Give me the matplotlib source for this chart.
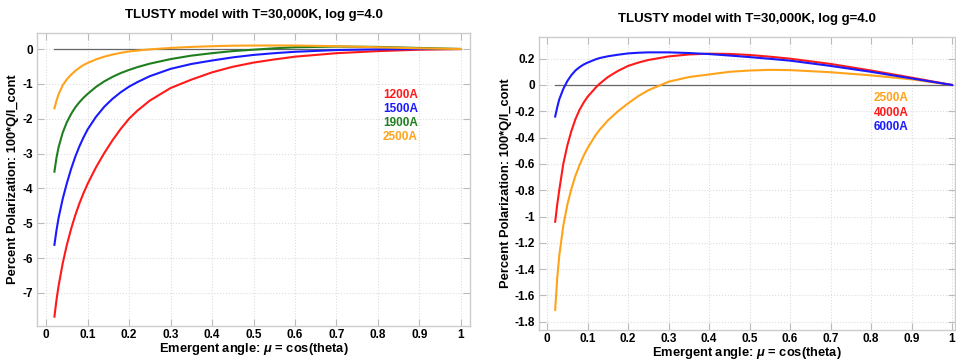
import matplotlib
matplotlib.use("Agg")
import matplotlib.pyplot as plt

plt.rcParams['font.family'] = ['Liberation Sans', 'DejaVu Sans']
plt.rcParams['font.weight'] = 'bold'
plt.rcParams['mathtext.fontset'] = 'custom'
plt.rcParams['mathtext.it'] = 'Liberation Sans:italic:bold'
plt.rcParams['mathtext.rm'] = 'Liberation Sans:bold'

# linkes Bild: UV Wellenlaengen
mu_l = [0.02, 0.025, 0.03, 0.04, 0.05, 0.06, 0.07, 0.08, 0.09, 0.10, 0.12, 0.14, 0.16,
        0.18, 0.20, 0.22, 0.25, 0.30, 0.35, 0.40, 0.45, 0.50, 0.55, 0.60, 0.70, 0.80, 0.90, 1.00]
p1200 = [-7.68, -7.20, -6.80, -6.15, -5.62, -5.17, -4.78, -4.44, -4.14, -3.87, -3.40, -2.99, -2.62,
         -2.29, -2.00, -1.77, -1.48, -1.12, -0.88, -0.67, -0.51, -0.39, -0.30, -0.22, -0.12, -0.06, -0.02, 0.0]
p1500 = [-5.62, -5.20, -4.85, -4.30, -3.85, -3.45, -3.10, -2.80, -2.54, -2.31, -1.95, -1.66, -1.43,
         -1.24, -1.08, -0.95, -0.78, -0.57, -0.43, -0.33, -0.24, -0.17, -0.12, -0.08, -0.03, -0.01, 0.0, 0.0]
p1900 = [-3.52, -3.12, -2.82, -2.40, -2.10, -1.87, -1.68, -1.53, -1.40, -1.29, -1.09, -0.93, -0.80,
         -0.69, -0.60, -0.52, -0.42, -0.29, -0.19, -0.12, -0.06, -0.02, 0.02, 0.05, 0.07, 0.06, 0.03, 0.0]
p2500 = [-1.70, -1.48, -1.30, -1.04, -0.87, -0.74, -0.63, -0.54, -0.46, -0.40, -0.30, -0.22, -0.16,
         -0.11, -0.07, -0.045, -0.01, 0.03, 0.06, 0.08, 0.095, 0.10, 0.10, 0.10, 0.08, 0.05, 0.02, 0.0]

# rechtes Bild: optische Wellenlaengen
mu_r = [0.02, 0.025, 0.03, 0.04, 0.05, 0.06, 0.07, 0.08, 0.09, 0.10, 0.12, 0.13, 0.15, 0.175, 0.20,
        0.225, 0.25, 0.30, 0.35, 0.40, 0.45, 0.50, 0.55, 0.60, 0.70, 0.80, 0.90, 1.00]
q2500 = [-1.71, -1.47, -1.30, -1.07, -0.91, -0.79, -0.69, -0.61, -0.54, -0.48, -0.38, -0.34, -0.27, -0.20,
         -0.14, -0.085, -0.04, 0.025, 0.06, 0.08, 0.10, 0.11, 0.115, 0.113, 0.097, 0.073, 0.043, 0.0]
q4000 = [-1.04, -0.91, -0.80, -0.60, -0.46, -0.35, -0.26, -0.19, -0.135, -0.09, -0.02, 0.01, 0.06, 0.107,
         0.145, 0.17, 0.19, 0.217, 0.232, 0.238, 0.236, 0.228, 0.215, 0.20, 0.16, 0.11, 0.056, 0.0]
q6000 = [-0.24, -0.17, -0.11, -0.03, 0.03, 0.075, 0.11, 0.135, 0.155, 0.17, 0.195, 0.205, 0.218, 0.23,
         0.24, 0.245, 0.248, 0.248, 0.243, 0.235, 0.224, 0.212, 0.199, 0.185, 0.145, 0.10, 0.05, 0.0]

labels_l = ['1200A', '1500A', '1900A', '2500A']
labels_r = ['2500A', '4000A', '6000A']
farben_l = ['#ff1a1a', '#1a1aff', '#1f7f1f', '#ffa31a']
farben_r = ['#ffa31a', '#ff1a1a', '#1a1aff']

titel = 'TLUSTY model with T=30,000K, log g=4.0'
xlab = r'Emergent angle: $\mu$ = cos(theta)'
ylab = 'Percent Polarization: 100*Q/I_cont'

fig = plt.figure(figsize=(9.56, 3.6), dpi=100)
ax1 = fig.add_axes([0.0387, 0.0944, 0.453, 0.814])
ax2 = fig.add_axes([0.5638, 0.0833, 0.435, 0.814])


def achse(ax):
    ax.grid(True, linestyle=':', color='#dddddd', linewidth=0.8)
    ax.set_axisbelow(True)
    for s in ax.spines.values():
        s.set_color('#cccccc')
        s.set_linewidth(1.0)
    ax.tick_params(direction='in', top=True, right=True, length=5, width=0.8,
                   color='#bbbbbb', labelsize=8.5, pad=3)
    ax.tick_params(axis='x', pad=2)
    for t in ax.get_xticklabels() + ax.get_yticklabels():
        t.set_fontweight('bold')
    ax.set_xticks([0, 0.1, 0.2, 0.3, 0.4, 0.5, 0.6, 0.7, 0.8, 0.9, 1])
    ax.set_xticklabels(['0', '0.1', '0.2', '0.3', '0.4', '0.5', '0.6', '0.7', '0.8', '0.9', '1'])
    ax.set_title(titel, fontsize=9.5, fontweight='bold', pad=11)
    ax.set_xlabel(xlab, fontsize=9.3, fontweight='bold', labelpad=0)
    ax.set_ylabel(ylab, fontsize=9.3, fontweight='bold', labelpad=2)


# linke Seite
ax1.plot([0.02, 1.0], [0, 0], color='#666666', linewidth=0.9)
for y, f in zip([p1200, p1500, p1900, p2500], farben_l):
    ax1.plot(mu_l, y, color=f, linewidth=1.5)
ax1.set_xlim(-0.022, 1.022)
ax1.set_ylim(-7.95, 0.46)
ax1.set_yticks([0, -1, -2, -3, -4, -5, -6, -7])
ax1.set_yticklabels(['0', '-1', '-2', '-3', '-4', '-5', '-6', '-7'])
achse(ax1)
for i, (lab, f) in enumerate(zip(labels_l, farben_l)):
    ax1.text(0.812, -1.32 - i * 0.4, lab, color=f, fontsize=8.5, fontweight='bold', va='center')

# rechte Seite
ax2.plot([0.02, 1.0], [0, 0], color='#666666', linewidth=0.9)
for y, f in zip([q2500, q4000, q6000], farben_r):
    ax2.plot(mu_r, y, color=f, linewidth=1.5)
ax2.set_xlim(-0.02, 1.007)
ax2.set_ylim(-1.863, 0.365)
yt = [0.2, 0, -0.2, -0.4, -0.6, -0.8, -1, -1.2, -1.4, -1.6, -1.8]
ax2.set_yticks(yt)
ax2.set_yticklabels(['0.2', '0', '-0.2', '-0.4', '-0.6', '-0.8', '-1', '-1.2', '-1.4', '-1.6', '-1.8'])
achse(ax2)
for i, (lab, f) in enumerate(zip(labels_r, farben_r)):
    ax2.text(0.807, -0.1 - i * 0.11, lab, color=f, fontsize=8.5, fontweight='bold', va='center')

fig.savefig('out.png', dpi=100)
